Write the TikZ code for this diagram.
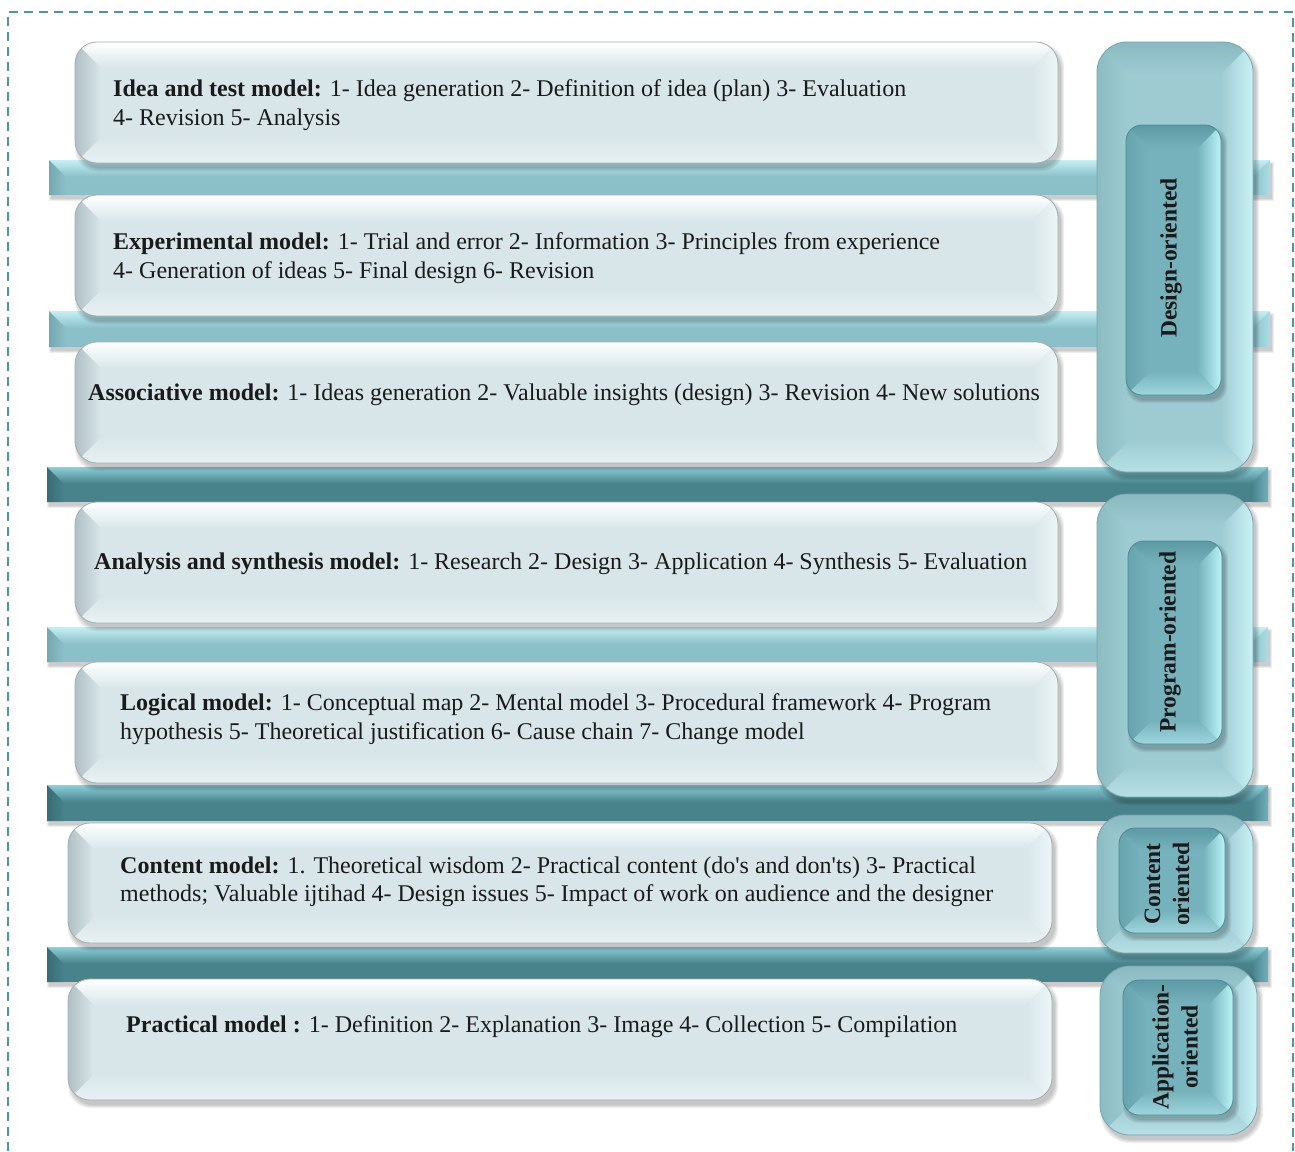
\documentclass[tikz,border=0pt]{standalone}
\usepackage{fontspec}
\setmainfont{Liberation Serif}[Ligatures=TeXOff]
\usetikzlibrary{calc}

% frame
\definecolor{dashc}{RGB}{74,152,162}
% light model boxes
\definecolor{ltBase}{RGB}{217,230,233}
\definecolor{ltTop}{RGB}{255,255,255}
\definecolor{ltLeft}{RGB}{176,192,196}
\definecolor{ltRight}{RGB}{236,246,247}
\definecolor{ltBot}{RGB}{232,241,243}
\definecolor{ltEdge}{RGB}{160,174,178}
% outer category boxes
\definecolor{otBase}{RGB}{158,203,210}
\definecolor{otTop}{RGB}{138,185,193}
\definecolor{otLeft}{RGB}{140,188,195}
\definecolor{otRight}{RGB}{202,242,246}
\definecolor{otBot}{RGB}{182,224,229}
\definecolor{otEdge}{RGB}{120,165,172}
% inner category boxes
\definecolor{inBase}{RGB}{118,178,187}
\definecolor{inTop}{RGB}{92,154,164}
\definecolor{inLeft}{RGB}{104,164,173}
\definecolor{inRight}{RGB}{186,243,248}
\definecolor{inBot}{RGB}{158,214,221}
\definecolor{inEdge}{RGB}{78,138,147}
% connecting bars
\definecolor{lbarHi}{RGB}{196,240,245}
\definecolor{lbarLo}{RGB}{140,192,200}
\definecolor{lbarLeft}{RGB}{116,168,176}
\definecolor{lbarRight}{RGB}{172,222,228}
\definecolor{dbarHi}{RGB}{140,208,218}
\definecolor{dbarLo}{RGB}{72,130,139}
\definecolor{dbarLeft}{RGB}{56,108,117}
\definecolor{dbarRight}{RGB}{112,176,186}
\definecolor{txtc}{RGB}{26,26,26}

% bevelled rounded box: x1 y1 x2 y2 palette radius bevel
\newcommand\bevelbox[7]{%
  \foreach \k in {0,...,3}
    \fill[black,opacity=0.06,rounded corners=#6pt]
      ({#1+3-\k},{#2+5-\k}) rectangle ({#3+3+\k},{#4+5+\k});
  \begin{scope}
    \clip[rounded corners=#6pt] (#1,#2) rectangle (#3,#4);
    \fill[#5Base] (#1,#2) rectangle (#3,#4);
    \shade[top color=#5Top,bottom color=#5Base]
      (#1,#2) -- (#3,#2) -- ({#3-#7},{#2+#7}) -- ({#1+#7},{#2+#7}) -- cycle;
    \shade[top color=#5Base,bottom color=#5Bot]
      (#1,#4) -- (#3,#4) -- ({#3-#7},{#4-#7}) -- ({#1+#7},{#4-#7}) -- cycle;
    \shade[left color=#5Left,right color=#5Base]
      (#1,#2) -- ({#1+#7},{#2+#7}) -- ({#1+#7},{#4-#7}) -- (#1,#4) -- cycle;
    \shade[left color=#5Base,right color=#5Right]
      (#3,#2) -- ({#3-#7},{#2+#7}) -- ({#3-#7},{#4-#7}) -- (#3,#4) -- cycle;
  \end{scope}
  \draw[#5Edge,line width=0.8pt,rounded corners=#6pt] (#1,#2) rectangle (#3,#4);
}

% bevelled horizontal bar: x1 y1 x2 y2 palette
\newcommand\tiebar[5]{%
  \foreach \k in {0,...,2}
    \fill[black,opacity=0.07] ({#1+2-\k},{#2+4-\k}) rectangle ({#3+2+\k},{#4+4+\k});
  \fill[#5Lo] (#1,#2) rectangle (#3,#4);
  \shade[top color=#5Hi,bottom color=#5Lo] (#1,#2) rectangle (#3,{#2+0.47*(#4-#2)});
  \shade[left color=#5Left,right color=#5Lo]
    (#1,#2) -- ({#1+0.47*(#4-#2)},{#2+0.47*(#4-#2)}) -- ({#1+0.47*(#4-#2)},#4) -- (#1,#4) -- cycle;
  \shade[left color=#5Lo,right color=#5Right]
    (#3,#2) -- ({#3-0.47*(#4-#2)},{#2+0.47*(#4-#2)}) -- ({#3-0.47*(#4-#2)},#4) -- (#3,#4) -- cycle;
}

\tikzset{
  modeltext/.style={font=\fontsize{24}{28.5}\selectfont,text=txtc,align=left,anchor=west,inner sep=0pt},
  cattext/.style={font=\fontsize{23.5}{29}\selectfont\bfseries,text=txtc,align=center,rotate=90,inner sep=0pt}
}

\begin{document}
\begin{tikzpicture}[x=1pt,y=-1pt]
\useasboundingbox (0,0) rectangle (1295,1151);
\fill[white] (0,0) rectangle (1295,1151);

% dashed frame, open at the bottom
\draw[dashc,line width=2.6pt,dash pattern=on 9pt off 6pt] (8,1151) -- (8,12) -- (1293,12) -- (1293,1151);

% bars linking the rows
\tiebar{49}{160}{1270}{195}{lbar}
\tiebar{49}{311}{1270}{347}{lbar}
\tiebar{47}{467}{1268}{502}{dbar}
\tiebar{47}{627}{1268}{662}{lbar}
\tiebar{47}{785}{1268}{821}{dbar}
\tiebar{47}{947}{1268}{982}{dbar}

% model boxes
\bevelbox{75}{42}{1058}{163}{lt}{22}{26}
\bevelbox{75}{195}{1058}{316}{lt}{22}{26}
\bevelbox{75}{342}{1058}{463}{lt}{22}{26}
\bevelbox{75}{502}{1058}{623}{lt}{22}{26}
\bevelbox{75}{662}{1058}{783}{lt}{22}{26}
\bevelbox{68}{823}{1052}{943}{lt}{22}{26}
\bevelbox{68}{979}{1052}{1100}{lt}{22}{26}

% category boxes
\bevelbox{1097}{42}{1253}{472}{ot}{30}{32}
\bevelbox{1126}{125}{1221}{395}{in}{16}{24}
\bevelbox{1097}{494}{1253}{797}{ot}{30}{32}
\bevelbox{1128}{541}{1222}{744}{in}{16}{24}
\bevelbox{1097}{815}{1253}{953}{ot}{28}{28}
\bevelbox{1119}{828}{1225}{933}{in}{16}{22}
\bevelbox{1100}{966}{1257}{1135}{ot}{30}{30}
\bevelbox{1123}{980}{1233}{1115}{in}{16}{24}

% model descriptions
\node[modeltext] (idea) at (113,105) {\textbf{Idea and test model:} 1- Idea generation 2- Definition of idea (plan) 3- Evaluation\\4- Revision 5- Analysis};
\node[modeltext] (exper) at (113,258) {\textbf{Experimental model:} 1- Trial and error 2- Information 3- Principles from experience\\4- Generation of ideas 5- Final design 6- Revision};
\node[modeltext] (assoc) at (88,395) {\textbf{Associative model:} 1- Ideas generation 2- Valuable insights (design) 3- Revision 4- New solutions};
\node[modeltext] (anal) at (94,564) {\textbf{Analysis and synthesis model:} 1- Research 2- Design 3- Application 4- Synthesis 5- Evaluation};
\node[modeltext] (logic) at (120,719) {\textbf{Logical model:} 1- Conceptual map 2- Mental model 3- Procedural framework 4- Program\\hypothesis 5- Theoretical justification 6- Cause chain 7- Change model};
\node[modeltext] (content) at (120,882) {\textbf{Content model:} 1. Theoretical wisdom 2- Practical content (do's and don'ts) 3- Practical\\methods; Valuable ijtihad 4- Design issues 5- Impact of work on audience and the designer};
\node[modeltext] (pract) at (126,1027) {\textbf{Practical model :} 1- Definition 2- Explanation 3- Image 4- Collection 5- Compilation};

% category labels
\node[cattext] (design) at (1171,258) {Design-oriented};
\node[cattext] (program) at (1170,642) {Program-oriented};
\node[cattext] (contcat) at (1167,884) {Content\\oriented};
\node[cattext] (applic) at (1175,1047) {Application-\\oriented};
\end{tikzpicture}
\end{document}
